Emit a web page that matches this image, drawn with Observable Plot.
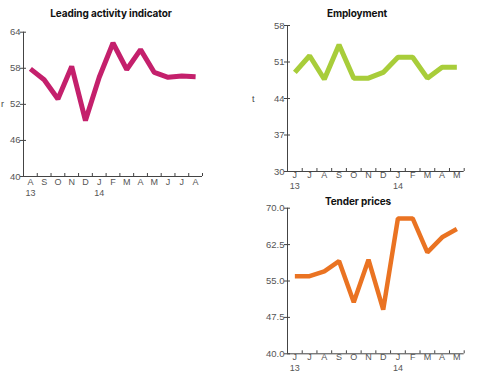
<!DOCTYPE html>
<html>
<head>
<meta charset="utf-8">
<script src="https://cdn.jsdelivr.net/npm/d3@7"></script>
<script src="https://cdn.jsdelivr.net/npm/@observablehq/plot@0.6"></script>
<style>
  html, body { margin: 0; padding: 0; background: #fff; }
  #root { position: relative; width: 480px; height: 383px; overflow: hidden; font-family: "Liberation Sans", Arial, sans-serif; }
  .chart { position: absolute; }
  .title { position: absolute; font-family: Inter, "Open Sans", sans-serif; font-weight: 700; font-size: 10px; color: #111; transform: translate(-50%, -50%); white-space: nowrap; letter-spacing: -0.1px; }
  .stray { position: absolute; font-size: 9px; color: #444; transform: translateY(-50%); }
</style>
</head>
<body>
<div id="root"></div>
<script>
// ---- data ----
const leadMonths = ["A","S","O","N","D","J","F","M","A","M","J","J","A"];
const leadYears  = ["13","","","","","14","","","","","","",""];
const leadValues = [57.9,56.1,52.9,58.3,49.3,56.5,62.2,57.8,61.1,57.3,56.5,56.7,56.6];
const leadTicks  = [40,46,52,58,64];

const empMonths = ["J","J","A","S","O","N","D","J","F","M","A","M"];
const empYears  = ["13","","","","","","","14","","","",""];
const empValues = [49.0,52.2,47.7,54.3,47.9,47.9,49.0,51.9,51.9,47.9,50.0,50.0];
const empTicks  = [30,37,44,51,58];

const tenderValues = [56.0,56.0,57.0,59.1,50.6,59.4,49.1,67.9,67.9,60.9,64.0,65.7];
const tenderTicks  = [40,47.5,55,62.5,70];

const titles = ["Leading activity indicator","Employment","Tender prices"];

// ---- drawing ----
const root = document.getElementById("root");

function makeChart(o) {
  const n = o.values.length;
  const idx = d3.range(n);
  const ymin = o.ticks[0], ymax = o.ticks[o.ticks.length - 1];
  const plotH = o.height - o.mt - o.mb;
  const tickData = (ymax - ymin) * 3 / plotH;
  const axisColor = "#444";
  const svg = Plot.plot({
    width: o.width,
    height: o.height,
    marginLeft: o.ml, marginRight: o.mr, marginTop: o.mt, marginBottom: o.mb,
    style: {fontFamily: "'Liberation Sans', Arial, sans-serif", fontSize: "9px", color: axisColor, background: "transparent", overflow: "visible"},
    x: {domain: [-0.5, n - 0.5], axis: null},
    y: {domain: [ymin, ymax], axis: null},
    marks: [
      Plot.ruleY([ymin], {stroke: axisColor, strokeWidth: 1}),
      Plot.ruleX([-0.5], {stroke: axisColor, strokeWidth: 1}),
      Plot.ruleX(idx.map(i => i + 0.5), {y1: ymin, y2: ymin + tickData, stroke: axisColor, strokeWidth: 1}),
      Plot.axisY(o.ticks, {tickSize: 6, dx: 3, tickPadding: 0, tickFormat: o.tickFormat, fontSize: 9.5, stroke: axisColor, fill: "#555"}),
      Plot.axisX(idx, {tickSize: 0, tickPadding: o.monthPad, tickFormat: i => o.months[i], fontSize: 9, fill: "#555"}),
      Plot.text(idx.filter(i => o.years[i]), {x: i => i, y: () => ymin, text: i => o.years[i], dy: o.yearDy, fontSize: 9, fill: "#555"}),
      Plot.line(idx, {x: i => i, y: i => o.values[i], stroke: o.color, strokeWidth: o.sw, strokeLinejoin: "miter", strokeLinecap: "butt"})
    ]
  });
  svg.classList.add("chart");
  svg.style.left = o.left + "px";
  svg.style.top = o.top + "px";
  root.appendChild(svg);
}

makeChart({
  months: leadMonths, years: leadYears, values: leadValues, ticks: leadTicks,
  tickFormat: d => String(d), color: "#c4206c", sw: 5,
  left: 0, top: 0, width: 240, height: 200, ml: 23, mr: 38, mt: 31.7, mb: 24,
  monthPad: 2, yearDy: 16.5
});
makeChart({
  months: empMonths, years: empYears, values: empValues, ticks: empTicks,
  tickFormat: d => String(d), color: "#a8cd3a", sw: 5,
  left: 240, top: 0, width: 240, height: 195, ml: 47, mr: 16.3, mt: 25, mb: 24,
  monthPad: 0, yearDy: 14.5
});
makeChart({
  months: empMonths, years: empYears, values: tenderValues, ticks: tenderTicks,
  tickFormat: d => d.toFixed(1), color: "#ea7322", sw: 4.5,
  left: 240, top: 180, width: 240, height: 203, ml: 47, mr: 16.3, mt: 27.7, mb: 29.7,
  monthPad: 0, yearDy: 14.5
});

function addTitle(text, x, y) {
  const d = document.createElement("div");
  d.className = "title";
  d.textContent = text;
  d.style.left = x + "px";
  d.style.top = y + "px";
  root.appendChild(d);
}
addTitle(titles[0], 111, 13);
addTitle(titles[1], 357, 13);
addTitle(titles[2], 358, 201);

function addStray(text, x, y) {
  const d = document.createElement("div");
  d.className = "stray";
  d.textContent = text;
  d.style.left = x + "px";
  d.style.top = y + "px";
  root.appendChild(d);
}
addStray("r", 1, 104);
addStray("t", 252, 99);
</script>
</body>
</html>
